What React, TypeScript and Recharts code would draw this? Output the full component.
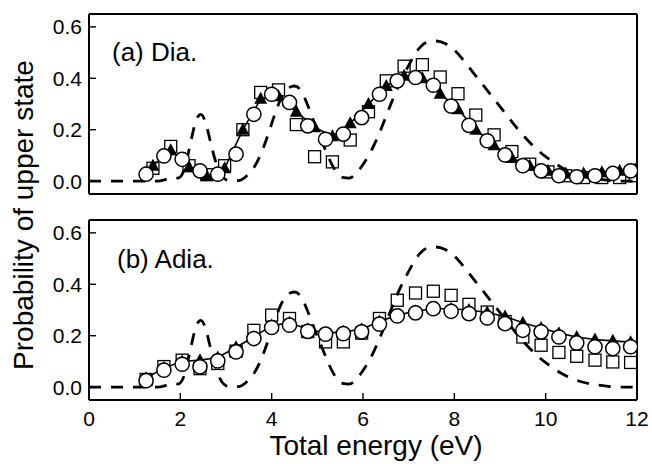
import React from 'react'
import { ComposedChart, Line, Scatter, XAxis, YAxis } from 'recharts'

// energy grid of the circles (both panels) and of squares / triangles in panel (b)
const energy = [1.25, 1.64, 2.04, 2.43, 2.82, 3.22, 3.61, 4.0, 4.39, 4.79, 5.18, 5.57, 5.97, 6.36, 6.75, 7.15, 7.54, 7.93, 8.32, 8.72, 9.11, 9.5, 9.9, 10.29, 10.68, 11.08, 11.47, 11.86]
// squares / triangles in panel (a) sit a little to the right
const energyShift = [1.4, 1.79, 2.19, 2.58, 2.97, 3.37, 3.76, 4.15, 4.54, 4.94, 5.33, 5.72, 6.12, 6.51, 6.9, 7.3, 7.69, 8.08, 8.47, 8.87, 9.26, 9.65, 10.05, 10.44, 10.83, 11.23, 11.62, 11.96]

const circA = [0.027, 0.098, 0.085, 0.04, 0.027, 0.105, 0.26, 0.338, 0.306, 0.215, 0.163, 0.183, 0.247, 0.338, 0.39, 0.403, 0.373, 0.292, 0.217, 0.157, 0.102, 0.06, 0.04, 0.021, 0.017, 0.021, 0.03, 0.04]
const sqA = [0.05, 0.135, 0.06, 0.025, 0.06, 0.2, 0.345, 0.355, 0.22, 0.095, 0.075, 0.16, 0.27, 0.39, 0.447, 0.453, 0.405, 0.34, 0.257, 0.18, 0.115, 0.066, 0.036, 0.021, 0.014, 0.014, 0.014, 0.021]
const triA = [0.06, 0.12, 0.055, 0.02, 0.05, 0.2, 0.32, 0.33, 0.27, 0.21, 0.175, 0.225, 0.3, 0.37, 0.41, 0.4, 0.34, 0.28, 0.2, 0.14, 0.09, 0.06, 0.04, 0.03, 0.03, 0.035, 0.04, 0.045]

const circB = [0.025, 0.066, 0.089, 0.079, 0.102, 0.137, 0.189, 0.232, 0.241, 0.217, 0.206, 0.208, 0.215, 0.245, 0.277, 0.289, 0.305, 0.295, 0.286, 0.269, 0.247, 0.221, 0.215, 0.195, 0.172, 0.157, 0.15, 0.157]
const sqB = [0.03, 0.08, 0.105, 0.072, 0.092, 0.14, 0.221, 0.28, 0.267, 0.216, 0.176, 0.176, 0.21, 0.267, 0.338, 0.366, 0.373, 0.357, 0.322, 0.292, 0.255, 0.195, 0.163, 0.135, 0.12, 0.105, 0.098, 0.096]
const triB = [0.035, 0.075, 0.1, 0.105, 0.115, 0.155, 0.195, 0.24, 0.25, 0.225, 0.21, 0.215, 0.225, 0.255, 0.28, 0.295, 0.305, 0.305, 0.3, 0.29, 0.275, 0.25, 0.23, 0.21, 0.195, 0.185, 0.18, 0.175]

// dashed reference curve (same in both panels)
const dashE = [0, 1.5, 1.65, 1.8, 1.95, 2.05, 2.15, 2.25, 2.35, 2.45, 2.55, 2.65, 2.75, 2.85, 2.95, 3.1, 3.3, 3.45, 3.6, 3.75, 3.9, 4.05, 4.2, 4.35, 4.5, 4.65, 4.8, 4.95, 5.1, 5.25, 5.4, 5.55, 5.7, 5.85, 6.0, 6.2, 6.4, 6.6, 6.8, 7.0, 7.2, 7.4, 7.6, 7.8, 8.0, 8.2, 8.4, 8.6, 8.8, 9.0, 9.2, 9.4, 9.6, 9.8, 10.0, 10.2, 10.4, 10.6, 10.8, 11.0, 11.3, 11.6, 12]
const dashP = [0, 0, 0.005, 0.015, 0.012, 0.03, 0.09, 0.17, 0.24, 0.26, 0.23, 0.16, 0.09, 0.04, 0.012, 0, 0.003, 0.02, 0.05, 0.1, 0.17, 0.25, 0.32, 0.36, 0.37, 0.35, 0.29, 0.22, 0.155, 0.09, 0.04, 0.015, 0.012, 0.03, 0.065, 0.125, 0.205, 0.295, 0.38, 0.45, 0.51, 0.54, 0.545, 0.535, 0.51, 0.47, 0.425, 0.38, 0.335, 0.29, 0.245, 0.2, 0.16, 0.125, 0.095, 0.07, 0.048, 0.032, 0.02, 0.012, 0.005, 0, 0]

const xTicks = [0, 2, 4, 6, 8, 10, 12]
const yTicks = [0, 0.2, 0.4, 0.6]

const pts = (xs: number[], ys: number[]) => xs.map((x, i) => ({ x, y: ys[i] }))

const font = 'Liberation Sans, Arial, Helvetica, sans-serif'
const tickStyle = { fontSize: 21, fill: '#000', fontFamily: font }
const axisLine = { stroke: '#000', strokeWidth: 2 }
const tickLine = { stroke: '#000', strokeWidth: 1.4 }

const Circ = (p: any) => <circle cx={p.cx} cy={p.cy} r={7.1} fill="#fff" stroke="#000" strokeWidth={1.5} />
const Sq = (p: any) => <rect x={p.cx - 6} y={p.cy - 6} width={12} height={12} fill="none" stroke="#000" strokeWidth={1.3} />
const Tri = (p: any) => (
  <polygon points={`${p.cx},${p.cy - 7} ${p.cx + 6.5},${p.cy + 5} ${p.cx - 6.5},${p.cy + 5}`} fill="#000" />
)

function Panel({ height, margin, circ, sq, tri, eSq, showX }: any) {
  return (
    <ComposedChart width={652} height={height} margin={margin}>
      <XAxis dataKey="x" type="number" domain={[0, 12]} ticks={xTicks} height={1} tickSize={-7} tickMargin={18}
        tick={showX ? tickStyle : false} axisLine={axisLine} tickLine={tickLine} allowDataOverflow />
      <XAxis xAxisId="top" orientation="top" dataKey="x" type="number" domain={[0, 12]} ticks={xTicks} height={1}
        tickSize={-7} tick={false} axisLine={axisLine} tickLine={tickLine} />
      <YAxis dataKey="y" type="number" domain={[-0.05, 0.65]} ticks={yTicks} width={1} tickSize={-7} tickMargin={14}
        tick={tickStyle} tickFormatter={(v: number) => v.toFixed(1)} axisLine={axisLine} tickLine={tickLine} allowDataOverflow />
      <YAxis yAxisId="r" orientation="right" type="number" domain={[-0.05, 0.65]} ticks={yTicks} width={1}
        tickSize={-7} tick={false} axisLine={axisLine} tickLine={tickLine} />
      <Line data={pts(dashE, dashP)} dataKey="y" type="monotone" stroke="#000" strokeWidth={2.8}
        strokeDasharray="12 10" dot={false} isAnimationActive={false} />
      <Scatter data={pts(eSq, sq)} shape={Sq} isAnimationActive={false} />
      <Scatter data={pts(eSq, tri)} shape={Tri} line={{ stroke: '#000', strokeWidth: 1.6 }} isAnimationActive={false} />
      <Scatter data={pts(energy, circ)} shape={Circ} isAnimationActive={false} />
    </ComposedChart>
  )
}

export default function App() {
  return (
    <div style={{ position: 'absolute', left: 0, top: 0, width: 652, height: 464, background: '#fff' }}>
      <div style={{ position: 'absolute', left: 0, top: 0 }}>
        <Panel height={207} margin={{ top: 13, right: 14, bottom: 12, left: 88 }} circ={circA} sq={sqA} tri={triA} eSq={energyShift} showX={false} />
      </div>
      <div style={{ position: 'absolute', left: 0, top: 207 }}>
        <Panel height={257} margin={{ top: 12, right: 14, bottom: 63, left: 88 }} circ={circB} sq={sqB} tri={triB} eSq={energy} showX={true} />
      </div>
      <svg width={652} height={464} style={{ position: 'absolute', left: 0, top: 0, pointerEvents: 'none' }} fontFamily={font}>
        <text x={112} y={61} fontSize={26} fill="#000">(a) Dia.</text>
        <text x={117} y={268} fontSize={26} fill="#000">(b) Adia.</text>
        <text x={33} y={215} fontSize={28} fill="#000" textAnchor="middle" transform="rotate(-90 33 215)">Probability of upper state</text>
        <text x={376} y={455} fontSize={28} fill="#000" textAnchor="middle">Total energy (eV)</text>
      </svg>
    </div>
  )
}
